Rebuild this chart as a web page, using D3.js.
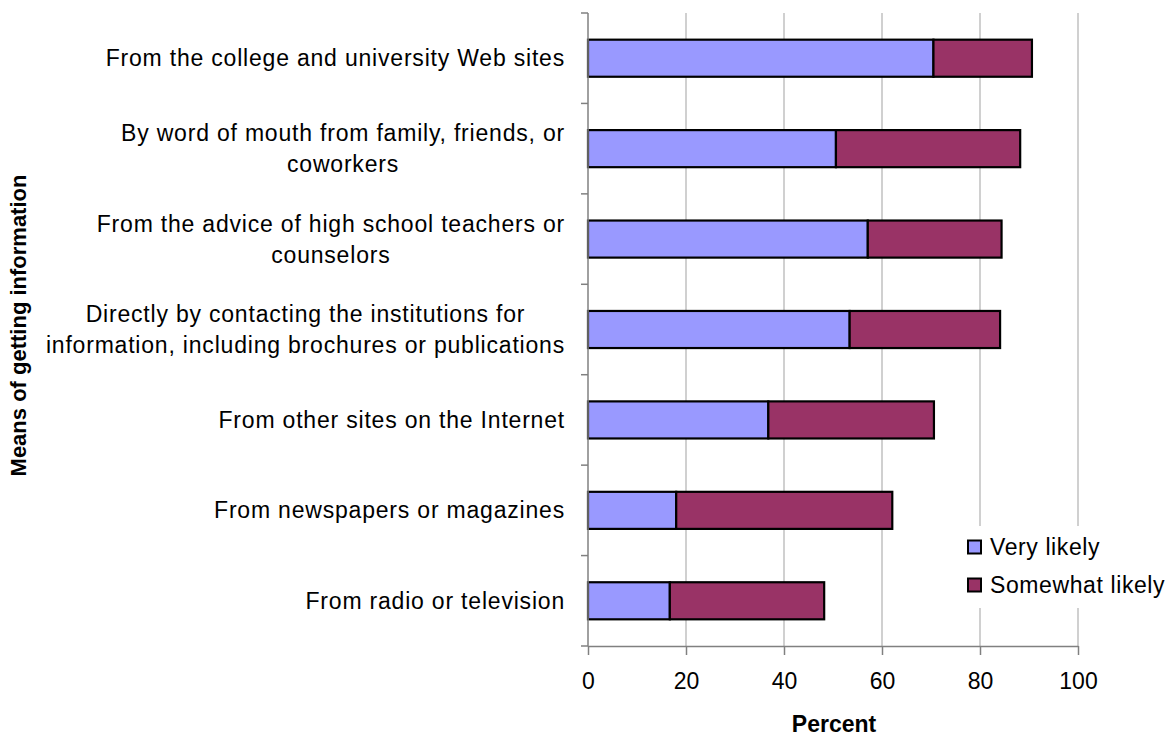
<!DOCTYPE html>
<html>
<head>
<meta charset="utf-8">
<script src="https://cdn.jsdelivr.net/npm/d3@7"></script>
<style>
  html, body { margin: 0; padding: 0; background: #fff; }
  svg { display: block; }
  text { font-family: "Liberation Sans", Arial, sans-serif; fill: #000; }
</style>
</head>
<body>
<svg id="chart" width="1171" height="736"></svg>
<script>
// Survey: means of getting information about colleges (percent of respondents)
const categories = [
  ["From the college and university Web sites"],
  ["By word of mouth from family, friends, or", "coworkers"],
  ["From the advice of high school teachers or", "counselors"],
  ["Directly by contacting the institutions for", "information, including brochures or publications"],
  ["From other sites on the Internet"],
  ["From newspapers or magazines"],
  ["From radio or television"]
];
const veryLikely     = [70.5, 50.6, 57.1, 53.4, 36.8, 18.0, 16.7];
const somewhatLikely = [20.1, 37.6, 27.3, 30.7, 33.8, 44.1, 31.5];
const seriesNames  = ["Very likely", "Somewhat likely"];
const seriesColors = ["#9999FF", "#993366"];
const xTicks = [0, 20, 40, 60, 80, 100];

const svg = d3.select("#chart");
const plot = { left: 588, right: 1078, top: 13, bottom: 646 };
const fontSize = 23;

const x = d3.scaleLinear().domain([0, 100]).range([plot.left, plot.right]);
const y = d3.scaleBand().domain(d3.range(categories.length))
  .range([plot.top, plot.bottom]).paddingInner(0.59).paddingOuter(0.295);
const band = d3.scaleBand().domain(d3.range(categories.length))
  .range([plot.top, plot.bottom]);

// vertical gridlines
svg.append("g").selectAll("line")
  .data(xTicks.filter(d => d > 0))
  .join("line")
  .attr("x1", d => x(d)).attr("x2", d => x(d))
  .attr("y1", plot.top).attr("y2", plot.bottom)
  .attr("stroke", "#c0c0c0").attr("stroke-width", 1.5);

// stacked bars
const stackData = categories.map((c, i) => ({ i, a: veryLikely[i], b: somewhatLikely[i] }));
const stacked = d3.stack().keys(["a", "b"])(stackData);

svg.append("g").selectAll("g")
  .data(stacked)
  .join("g")
  .attr("fill", (d, k) => seriesColors[k])
  .selectAll("rect")
  .data(d => d)
  .join("rect")
  .attr("x", d => x(d[0]))
  .attr("width", d => x(d[1]) - x(d[0]))
  .attr("y", d => y(d.data.i))
  .attr("height", y.bandwidth())
  .attr("stroke", "#000").attr("stroke-width", 2.2);

// y axis line with ticks between categories
const yAxis = svg.append("g");
yAxis.append("line")
  .attr("x1", plot.left).attr("x2", plot.left)
  .attr("y1", plot.top).attr("y2", plot.bottom)
  .attr("stroke", "#808080").attr("stroke-width", 1.5);
yAxis.selectAll("line.tick")
  .data(d3.range(categories.length + 1))
  .join("line").attr("class", "tick")
  .attr("x1", plot.left - 7).attr("x2", plot.left)
  .attr("y1", d => d < categories.length ? band(d) : plot.bottom)
  .attr("y2", d => d < categories.length ? band(d) : plot.bottom)
  .attr("stroke", "#808080").attr("stroke-width", 1.5);

// x axis
const xAxis = svg.append("g").attr("transform", `translate(0,${plot.bottom})`)
  .call(d3.axisBottom(x).tickValues(xTicks).tickSize(9).tickSizeOuter(0).tickPadding(18));
xAxis.select(".domain").attr("stroke", "#808080").attr("stroke-width", 1.5);
xAxis.selectAll(".tick line").attr("stroke", "#808080").attr("stroke-width", 1.5);
xAxis.selectAll(".tick text")
  .attr("font-family", "'Liberation Sans', Arial, sans-serif")
  .attr("font-size", fontSize).attr("fill", "#000");

// category labels, lines centred within their block, block right-aligned
const labelRight = 565;
const lineH = 31;
categories.forEach((lines, i) => {
  const g = svg.append("g");
  const cy = band(i) + band.bandwidth() / 2;
  const texts = lines.map((t, j) => g.append("text")
    .attr("font-size", fontSize)
    .attr("letter-spacing", 0.8)
    .attr("text-anchor", "middle")
    .attr("dominant-baseline", "central")
    .attr("y", cy + (j - (lines.length - 1) / 2) * lineH)
    .text(t));
  const maxW = d3.max(texts, t => t.node().getComputedTextLength());
  texts.forEach(t => t.attr("x", labelRight - maxW / 2));
});

// axis titles
svg.append("text")
  .attr("transform", `translate(18,${(plot.top + plot.bottom) / 2 - 4}) rotate(-90)`)
  .attr("text-anchor", "middle").attr("dominant-baseline", "central")
  .attr("font-size", 22).attr("font-weight", "bold")
  .text("Means of getting information");
svg.append("text")
  .attr("x", (plot.left + plot.right) / 2 + 1).attr("y", 724)
  .attr("text-anchor", "middle").attr("dominant-baseline", "central")
  .attr("font-size", 23).attr("font-weight", "bold")
  .text("Percent");

// legend
const legend = svg.append("g");
legend.append("rect")
  .attr("x", 962).attr("y", 526).attr("width", 209).attr("height", 82)
  .attr("fill", "#fff");
seriesNames.forEach((name, k) => {
  const ly = 547 + k * 38;
  legend.append("rect")
    .attr("x", 968).attr("y", ly - 6.5).attr("width", 13).attr("height", 13)
    .attr("fill", seriesColors[k]).attr("stroke", "#000").attr("stroke-width", 2);
  legend.append("text")
    .attr("x", 990).attr("y", ly)
    .attr("dominant-baseline", "central")
    .attr("font-size", fontSize)
    .attr("letter-spacing", 0.6)
    .text(name);
});
</script>
</body>
</html>
